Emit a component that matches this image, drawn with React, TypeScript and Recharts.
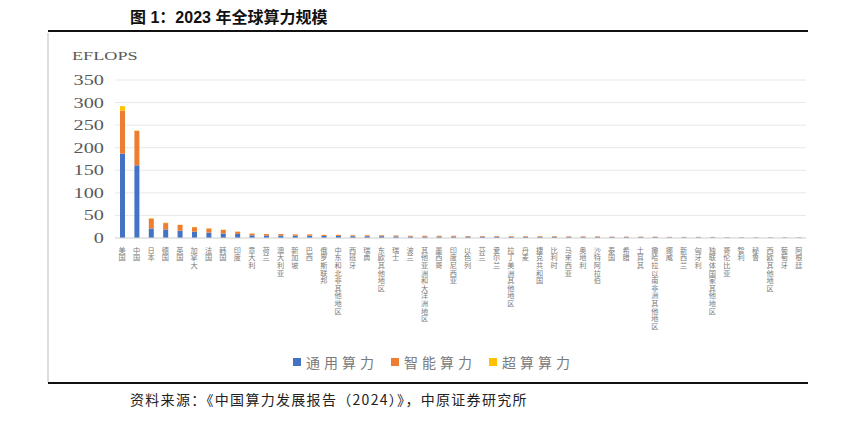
import React from 'react';
import { BarChart, Bar, XAxis, YAxis, CartesianGrid, Legend } from 'recharts';

const categories = [
  '美国', '中国', '日本', '德国', '英国', '加拿大', '法国', '韩国', '印度', '意大利',
  '荷兰', '澳大利亚', '新加坡', '巴西', '俄罗斯联邦', '中东和北非其他地区', '西班牙', '瑞典', '东欧其他地区', '瑞士',
  '波兰', '其他亚洲和大洋洲地区', '墨西哥', '印度尼西亚', '以色列', '芬兰', '爱尔兰', '拉丁美洲其他地区', '丹麦', '捷克共和国',
  '比利时', '马来西亚', '奥地利', '沙特阿拉伯', '泰国', '希腊', '土耳其', '撒哈拉以南非洲其他地区', '挪威', '新西兰',
  '匈牙利', '独联体国家其他地区', '哥伦比亚', '智利', '秘鲁', '西欧其他地区', '葡萄牙', '阿根廷',
];

const generalPower = [
  187, 161, 21, 19, 16, 14, 12, 10, 9, 6,
  5.5, 5.5, 5, 5, 4.5, 4.5, 4, 4, 4, 3.5,
  3, 3, 3, 3, 3, 3, 3, 2.5, 2.5, 2.5,
  2.5, 2, 2, 2, 2, 2, 2, 2, 1.5, 1.5,
  1.5, 1.5, 1.2, 1.2, 1, 1, 1, 1,
];

const intelligentPower = [
  95, 76, 22, 14, 13, 10, 9, 8, 5, 3.8,
  3.4, 3.4, 3, 3, 2.5, 2.5, 2, 2, 2, 2,
  2, 2, 2, 2, 1.5, 1.5, 1.5, 1.5, 1.5, 1.5,
  1.5, 1.5, 1.5, 1.5, 1, 1, 1, 1, 1, 1,
  1, 1, 0.8, 0.8, 0.5, 0.5, 0.5, 0.5,
];

const superPower = [
  10, 1, 1, 1, 0.5, 0.5, 0.5, 0.5, 0.3, 0.2,
  0.1, 0.1, 0.1, 0.1, 0.1, 0, 0.1, 0.1, 0, 0.1,
  0, 0, 0, 0, 0, 0, 0, 0, 0, 0,
  0, 0, 0, 0, 0, 0, 0, 0, 0, 0,
  0, 0, 0, 0, 0, 0, 0, 0,
];

const yTicks = [0, 50, 100, 150, 200, 250, 300, 350];

const seriesNames = ['通用算力', '智能算力', '超算算力'];
const seriesColors = ['#4472C4', '#ED7D31', '#FFC000'];

const data = categories.map((name, i) => ({
  name,
  general: generalPower[i],
  intelligent: intelligentPower[i],
  super: superPower[i],
}));

const XTick = (props: any) => {
  const { x, y, payload } = props;
  return (
    <text
      x={x}
      y={y + 0.5}
      fill="#7a7a7a"
      fontSize={7.2}
      letterSpacing={0.4}
      fontFamily="'Noto Sans CJK SC', sans-serif"
      style={{ writingMode: 'vertical-rl', textOrientation: 'upright' } as any}
    >
      {payload.value}
    </text>
  );
};

const YTick = (props: any) => {
  const { x, y, payload } = props;
  return (
    <text
      transform={`translate(${x},${y}) scale(1.45,1)`}
      x={0}
      y={0}
      dy={5}
      textAnchor="end"
      fontSize={14}
      fill="#595959"
      fontFamily="'Liberation Serif', serif"
    >
      {payload.value}
    </text>
  );
};

const LegendContent = () => (
  <div style={{ position: 'relative', height: 20 }}>
    <div style={{ position: 'absolute', left: 293, top: 0, display: 'flex', alignItems: 'center', height: 20 }}>
      {seriesNames.map((n, i) => (
        <div key={n} style={{ display: 'flex', alignItems: 'center', marginRight: i < 2 ? 13 : 0 }}>
          <div style={{ width: 8, height: 8, background: seriesColors[i] }} />
          <span
            style={{
              marginLeft: 5,
              fontSize: 14,
              letterSpacing: 4,
              color: '#7a7a7a',
              fontFamily: "'Noto Sans CJK SC', sans-serif",
              lineHeight: '20px',
            }}
          >
            {n}
          </span>
        </div>
      ))}
    </div>
  </div>
);

export default function App() {
  return (
    <div style={{ position: 'absolute', left: 0, top: 0, width: 844, height: 423, background: '#fff' }}>
      <svg width={844} height={423} style={{ position: 'absolute', left: 0, top: 0 }}>
        <text x={130} y={23} fontSize={16} fontWeight="bold" fill="#111" fontFamily="'Liberation Sans', 'Noto Sans CJK SC', sans-serif">
          图 1：2023 年全球算力规模
        </text>
        <line x1={48} x2={808} y1={31} y2={31} stroke="#111" strokeWidth={2} />
        <line x1={48} x2={48} y1={33} y2={382} stroke="#bbb" strokeWidth={1} />
        <line x1={48} x2={808} y1={383} y2={383} stroke="#111" strokeWidth={2} />
        <text
          transform="translate(72,60) scale(1.4,1)"
          x={0}
          y={0}
          fontSize={13}
          fill="#595959"
          fontFamily="'Liberation Serif', serif"
        >
          EFLOPS
        </text>
        <text x={130} y={405} fontSize={14} letterSpacing={1.3} fill="#222" fontFamily="'Noto Sans CJK SC', sans-serif">
          资料来源：《中国算力发展报告（2024）》，中原证券研究所
        </text>
      </svg>
      <div style={{ position: 'absolute', left: 0, top: 0 }}>
        <BarChart width={844} height={423} data={data} margin={{ top: 80, right: 38, left: 0, bottom: 65 }}>
          <CartesianGrid vertical={false} stroke="#e8e8e8" />
          <XAxis
            dataKey="name"
            interval={0}
            tickLine={false}
            axisLine={{ stroke: '#d9d9d9' }}
            height={120}
            tick={XTick}
          />
          <YAxis
            width={115}
            domain={[0, 350]}
            ticks={yTicks}
            interval={0}
            tickLine={false}
            axisLine={false}
            tickMargin={5}
            tick={YTick}
          />
          <Legend
            verticalAlign="middle"
            layout="horizontal"
            align="center"
            content={LegendContent}
            wrapperStyle={{ position: 'absolute', top: 352, left: 0, width: 844, height: 20 }}
          />
          <Bar dataKey="general" name={seriesNames[0]} stackId="a" fill={seriesColors[0]} barSize={5} isAnimationActive={false} />
          <Bar dataKey="intelligent" name={seriesNames[1]} stackId="a" fill={seriesColors[1]} barSize={5} isAnimationActive={false} />
          <Bar dataKey="super" name={seriesNames[2]} stackId="a" fill={seriesColors[2]} barSize={5} isAnimationActive={false} />
        </BarChart>
      </div>
    </div>
  );
}
